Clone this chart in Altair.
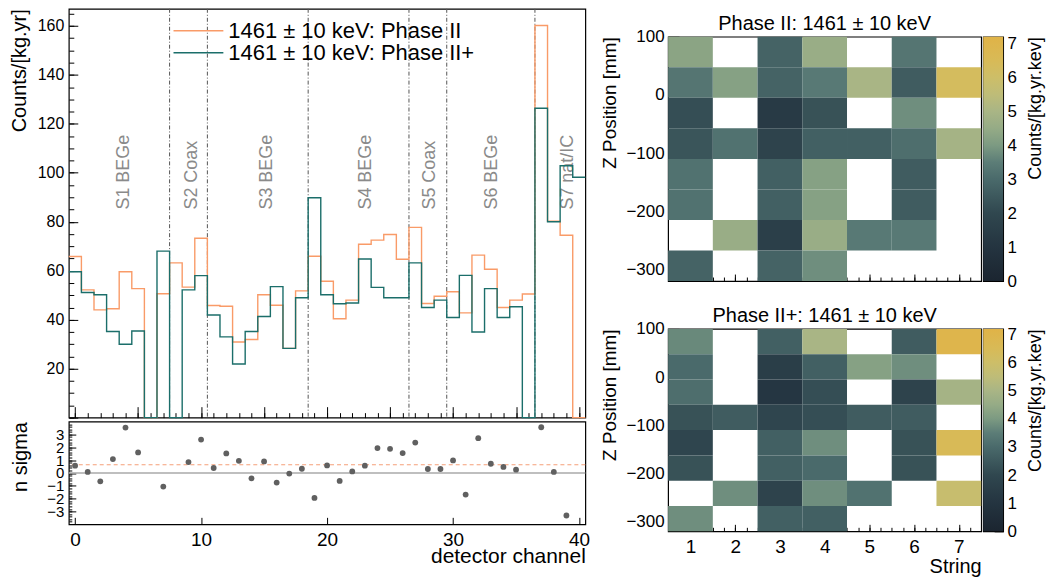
import altair as alt
import pandas as pd

FONT = "Liberation Sans"

# ---------------- data ----------------
channels = list(range(41))
phase2 = [65.8, 52.2, 44.0, 44.5, 59.6, 52.7, 0, 50.6, 63.2, 53.3,
          73.3, 45.8, 45.5, 30.9, 31.9, 50.2, 45.9, 28.3, 51.8, 65.9,
          55.7, 40.4, 48.0, 70.8, 72.5, 74.8, 64.7, 77.7, 46.6, 49.6,
          51.4, 42.8, 66.4, 60.6, 45.0, 48.0, 50.5, 160.2, 80.2, 74.5, 0]
phase2plus = [59.6, 51.1, 50.2, 35.2, 30.0, 35.4, 0, 68.0, 0, 52.2,
              58.0, 41.9, 33.0, 21.9, 35.2, 41.3, 53.5, 28.3, 49.0, 89.8,
              50.2, 46.5, 46.8, 64.8, 53.2, 49.0, 49.0, 63.2, 45.0, 48.0,
              40.9, 58.1, 35.0, 52.7, 40.9, 45.3, 0, 126.4, 80.0, 102.9, 98.2]
series_names = ["1461 \u00b1 10 keV: Phase II", "1461 \u00b1 10 keV: Phase II+"]
series_colors = ["#f99b68", "#1b6e6a"]

string_bounds = [7.5, 10.5, 18.5, 26.5, 29.5, 36.5]
string_labels = ["S1 BEGe", "S2 Coax", "S3 BEGe", "S4 BEGe", "S5 Coax", "S6 BEGe", "S7 nat/IC"]
string_label_x = [3.9, 9.3, 15.2, 23.1, 28.2, 33.1, 39.1]
string_label_y = [85, 85, 85, 85, 85, 85, 85]

nsig_channels = [0, 1, 2, 3, 4, 5, 7, 9, 10, 11, 12, 13, 14, 15, 16, 17, 18, 19,
                 20, 21, 22, 23, 24, 25, 26, 27, 28, 29, 30, 31, 32, 33, 34, 35,
                 37, 38, 39]
nsig_values = [0.57, 0.08, -0.65, 1.08, 3.54, 1.6, -1.06, 0.85, 2.6, 0.39, 1.52,
               0.95, -0.42, 0.9, -0.75, -0.05, 0.33, -1.94, 0.59, -0.62, 0.12,
               0.57, 1.94, 1.88, 1.55, 2.37, 0.31, 0.31, 0.98, -1.68, 2.71, 0.72,
               0.47, 0.26, 3.56, 0.08, -3.31]
nsig_mean = [0.64]
nsig_zero = [0]

heat_strings = [1, 2, 3, 4, 5, 6, 7]
z_edges = [100, 47.5, -5, -57.5, -110, -162.5, -215, -267.5, -320]
heat_phase2 = [
    [4.3, None, 2.8, 4.6, None, 3.3, None],
    [3.3, 4.2, 2.8, 3.4, 5.0, 2.6, 6.3],
    [2.2, None, 1.3, 2.3, None, 3.8, None],
    [2.4, 3.2, 1.8, 2.7, 2.7, 3.1, 4.9],
    [3.2, None, 2.7, 4.2, None, 2.6, None],
    [3.2, None, 2.7, 4.2, None, 2.6, None],
    [None, 4.6, 1.6, 4.6, 3.4, 3.4, None],
    [2.8, None, 2.8, 3.8, None, None, None],
]
heat_phase2plus = [
    [3.7, None, 2.7, 5.0, None, 2.6, 7.0],
    [3.0, None, 1.5, 2.7, 4.2, 3.8, None],
    [3.1, None, 1.1, 2.2, None, 1.8, 4.9],
    [2.3, 2.6, 1.9, 2.2, 2.6, 2.6, None],
    [1.9, None, 2.7, 3.8, None, 2.3, 6.5],
    [2.3, None, 2.7, 3.0, None, 2.3, None],
    [None, 3.8, 1.8, 3.8, 3.2, None, 5.8],
    [3.8, None, 2.7, 2.7, None, None, None],
]
colorbar_ticks = [0, 1, 2, 3, 4, 5, 6, 7]
pal_values = [0, 1, 2, 3, 3.5, 4, 4.5, 5, 5.5, 6, 6.5, 7.2]
pal_colors = ["#1b2530", "#243440", "#30474f", "#4a6a6b", "#5c7d77", "#7c9a82",
              "#95ab86", "#a9b585", "#bebc78", "#cdbe68", "#d8ba57", "#e0b347"]

# ---------------- helpers ----------------
W1, H1 = 518, 410
WR, HR = 518, 103
WH, HH1, HH2 = 314, 245, 203
CBW = 20


def tick_layer(df, xf, yf, xs, ys, W, H, xvals, yvals, xsize, ysize):
    xa = alt.Axis(orient="top", offset=-H, labels=False, domain=False, grid=False,
                  ticks=True, tickSize=xsize, values=xvals, title=None,
                  tickColor="black", tickWidth=1) if xvals else None
    ya = alt.Axis(orient="right", offset=-W, labels=False, domain=False, grid=False,
                  ticks=True, tickSize=ysize, values=yvals, title=None,
                  tickColor="black", tickWidth=1) if yvals else None
    return alt.Chart(df).mark_point(opacity=0).encode(
        x=alt.X(xf, scale=xs, axis=xa), y=alt.Y(yf, scale=ys, axis=ya))


# ---------------- main histogram ----------------
edges = [c - 0.5 for c in channels] + [channels[-1] + 0.5]
rows = []
for name, vals in zip(series_names, [phase2, phase2plus]):
    ext = list(vals) + [vals[-1]]
    for e, v in zip(edges, ext):
        rows.append({"edge": e, "counts": v, "series": name})
hist_df = pd.DataFrame(rows)

xs = alt.Scale(domain=[-0.5, 40.5], nice=False, zero=False)
ys = alt.Scale(domain=[0, 167], nice=False, zero=False)

hist = alt.Chart(hist_df).mark_line(interpolate="step-after", strokeWidth=1.4).encode(
    x=alt.X("edge:Q", scale=xs, axis=None),
    y=alt.Y("counts:Q", scale=ys,
            axis=alt.Axis(orient="left", ticks=False, domain=False, grid=False,
                          values=list(range(20, 161, 20)), labelFontSize=16,
                          labelPadding=5, title="Counts/[kg.yr]", titleFontSize=20,
                          titleAnchor="end", titlePadding=8)),
    color=alt.Color("series:N", scale=alt.Scale(domain=series_names, range=series_colors),
                    legend=alt.Legend(orient="none", legendX=99, legendY=11, title=None,
                                      symbolType="M-1,0L9,0", symbolSize=100,
                                      symbolStrokeWidth=1.5, labelFontSize=22,
                                      labelLimit=0, labelOffset=39, rowPadding=0)),
)

bounds_df = pd.DataFrame({"b": string_bounds})
vlines = alt.Chart(bounds_df).mark_rule(color="#555555", strokeWidth=1,
                                        strokeDash=[4, 2, 1, 2]).encode(
    x=alt.X("b:Q", scale=xs, axis=None))

lab_df = pd.DataFrame({"x": string_label_x, "y": string_label_y, "t": string_labels})
slabels = alt.Chart(lab_df).mark_text(angle=270, align="left", baseline="middle",
                                      fontSize=18, color="#8a8a8a", font=FONT).encode(
    x=alt.X("x:Q", scale=xs, axis=None), y=alt.Y("y:Q", scale=ys, axis=None), text="t:N")

t1 = tick_layer(hist_df, "edge:Q", "counts:Q", xs, ys, W1, H1,
                list(range(0, 41, 5)), list(range(0, 161, 20)), 11, 9)
t2 = tick_layer(hist_df, "edge:Q", "counts:Q", xs, ys, W1, H1,
                list(range(0, 41, 1)), list(range(0, 166, 5)), 5, 5)

main = alt.layer(vlines, slabels, hist, t1, t2).resolve_axis(
    x="independent", y="independent").properties(width=W1, height=H1)

# ---------------- n sigma panel ----------------
nsig_df = pd.DataFrame({"ch": nsig_channels, "ns": nsig_values})
ysr = alt.Scale(domain=[-4, 4], nice=False, zero=False)

pts = alt.Chart(nsig_df).mark_circle(size=34, color="#606060", opacity=1).encode(
    x=alt.X("ch:Q", scale=xs,
            axis=alt.Axis(orient="bottom", ticks=False, domain=False, grid=False,
                          values=[0, 10, 20, 30, 40], labelFontSize=19, labelPadding=6,
                          title="detector channel", titleFontSize=21, titleAnchor="end",
                          titlePadding=-4)),
    y=alt.Y("ns:Q", scale=ysr,
            axis=alt.Axis(orient="left", ticks=False, domain=False, grid=False,
                          values=[-3, -2, -1, 0, 1, 2, 3], labelFontSize=15,
                          labelOverlap=False, labelPadding=5, title="n sigma",
                          titleFontSize=20, titleAnchor="end", titlePadding=16)),
)
zero_line = alt.Chart(pd.DataFrame({"y": nsig_zero})).mark_rule(
    color="#aaaaaa", strokeWidth=1.5).encode(y=alt.Y("y:Q", scale=ysr, axis=None))
mean_line = alt.Chart(pd.DataFrame({"y": nsig_mean})).mark_rule(
    color="#f5a07a", strokeWidth=1.2, strokeDash=[4, 3]).encode(
    y=alt.Y("y:Q", scale=ysr, axis=None))
rt1 = tick_layer(nsig_df, "ch:Q", "ns:Q", xs, ysr, WR, HR,
                 [0, 10, 20, 30, 40], [-3, -2, -1, 0, 1, 2, 3], 7, 7)
rt2 = tick_layer(nsig_df, "ch:Q", "ns:Q", xs, ysr, WR, HR,
                 None, [round(-3.8 + 0.2 * i, 1) for i in range(39)], 3, 3)

ratio = alt.layer(zero_line, mean_line, pts, rt1, rt2).resolve_axis(
    x="independent", y="independent").properties(width=WR, height=HR)

left = alt.vconcat(main, ratio, spacing=4, bounds="flush")


# ---------------- heatmaps ----------------
def heat_df(mat):
    out = []
    for r, rowvals in enumerate(mat):
        for s, v in zip(heat_strings, rowvals):
            if v is None:
                continue
            out.append({"x1": s - 0.5, "x2": s + 0.5, "y1": z_edges[r + 1],
                        "y2": z_edges[r], "v": v})
    return pd.DataFrame(out)


hxs = alt.Scale(domain=[0.5, 7.5], nice=False, zero=False)
hys = alt.Scale(domain=[-320, 100], nice=False, zero=False)
cscale = alt.Scale(domain=pal_values, range=pal_colors, interpolate="rgb")


def heat(mat, H, title, bottom):
    df = heat_df(mat)
    xa = alt.Axis(orient="bottom", ticks=False, domain=False, grid=False,
                  values=heat_strings, labelFontSize=19, labelPadding=6,
                  title="String", titleFontSize=20, titleAnchor="end",
                  titlePadding=0) if bottom else None
    rect = alt.Chart(df).mark_rect().encode(
        x=alt.X("x1:Q", scale=hxs, axis=xa), x2="x2:Q",
        y=alt.Y("y1:Q", scale=hys,
                axis=alt.Axis(orient="left", ticks=False, domain=False, grid=False,
                              values=[100, 0, -100, -200, -300], labelFontSize=17,
                              labelPadding=4, title="Z Position [mm]", titleFontSize=19,
                              titleAnchor="end", titlePadding=6)),
        y2="y2:Q",
        color=alt.Color("v:Q", scale=cscale, legend=None),
    )
    ht1 = tick_layer(df, "x1:Q", "y1:Q", hxs, hys, WH, H,
                     heat_strings, [100, 0, -100, -200, -300], 7, 11)
    ht2 = tick_layer(df, "x1:Q", "y1:Q", hxs, hys, WH, H,
                     [0.75 + 0.25 * i for i in range(27)], None, 4, 4)
    return alt.layer(rect, ht1, ht2).resolve_axis(
        x="independent", y="independent").properties(
        width=WH, height=H,
        title=alt.Title(title, fontSize=20, offset=-6, anchor="middle", frame="group",
                        font=FONT, fontWeight="normal"))


def colorbar(H):
    cb_df = pd.DataFrame({"lo": [pal_values[0]], "hi": [pal_values[-1]]})
    cs = alt.Scale(domain=[pal_values[0], pal_values[-1]], nice=False, zero=False)
    cx = alt.Scale(domain=[0, 1], nice=False, zero=False)
    grad = alt.Gradient(gradient="linear",
                        stops=[alt.GradientStop(color=c, offset=v / pal_values[-1])
                               for v, c in zip(pal_values, pal_colors)],
                        x1=0, x2=0, y1=1, y2=0)
    bar = alt.Chart(cb_df).mark_rect(color=grad).encode(
        x=alt.X(datum=0, scale=cx, axis=None), x2=alt.X2(datum=1),
        y=alt.Y("lo:Q", scale=cs,
                axis=alt.Axis(orient="right", ticks=False, domain=False, grid=False,
                              values=colorbar_ticks, labelFontSize=17, labelPadding=4,
                              title="Counts/[kg.yr.kev]", titleFontSize=18,
                              titleAngle=270, titleAnchor="end", titleAlign="right",
                              titleBaseline="top", titlePadding=10)),
        y2="hi:Q")
    cticks = alt.Chart(cb_df).mark_point(opacity=0).encode(
        x=alt.X(datum=0.5, scale=cx, axis=None),
        y=alt.Y("lo:Q", scale=cs,
                axis=alt.Axis(orient="left", offset=-CBW, labels=False, domain=False,
                              grid=False, ticks=True, tickSize=9, values=colorbar_ticks,
                              title=None, tickColor="black")))
    return alt.layer(bar, cticks).resolve_axis(y="independent").properties(
        width=CBW, height=H)


heat1 = heat(heat_phase2, HH1, "Phase II: 1461 \u00b1 10 keV", False)
heat2 = heat(heat_phase2plus, HH2, "Phase II+: 1461 \u00b1 10 keV", True)
row1 = alt.hconcat(heat1, colorbar(HH1), spacing=2, bounds="flush")
row2 = alt.hconcat(heat2, colorbar(HH2), spacing=2, bounds="flush")
heats = alt.vconcat(row1, row2, spacing=15, bounds="full")

spacer = alt.Chart(pd.DataFrame({"s": [0]})).mark_point(opacity=0).encode(
    x=alt.X("s:Q", axis=None), y=alt.Y("s:Q", axis=None)).properties(
    width=1, height=1, view=alt.ViewBackground(strokeOpacity=0))

right = alt.vconcat(spacer, heats, spacing=0, bounds="full").resolve_scale(
    color="independent")

chart = alt.hconcat(left, right, spacing=10, bounds="full").resolve_scale(
    color="independent").properties(
    padding={"left": 8, "top": 5, "right": 5, "bottom": 5}, background="white"
).configure_view(stroke="black", strokeWidth=1.2).configure_axis(
    labelFont=FONT, titleFont=FONT, titleFontWeight="normal", labelColor="black",
    titleColor="black", grid=False, domain=False
).configure_legend(labelFont=FONT, titleFont=FONT, titleFontWeight="normal",
                   labelColor="black", titleColor="black"
).configure_title(font=FONT, fontWeight="normal", color="black")

chart.save("out.html", embed_options={"renderer": "svg", "actions": False})
